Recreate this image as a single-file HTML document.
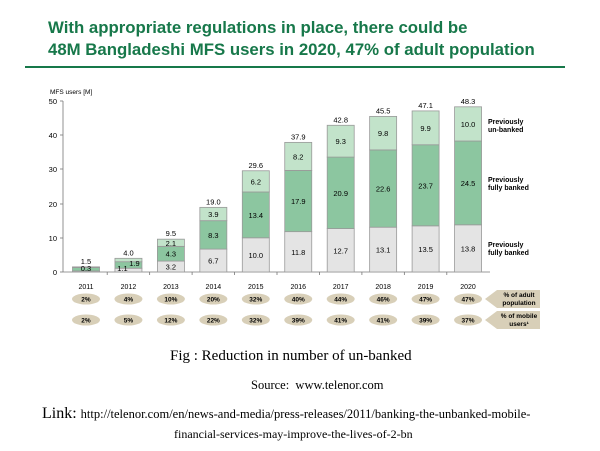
<!DOCTYPE html>
<html><head><meta charset="utf-8"><style>
body{margin:0;background:#fff;width:600px;height:451px;overflow:hidden;position:relative}
.t{position:absolute;left:48px;font:bold 16.8px "Liberation Sans",sans-serif;color:#17784a;white-space:nowrap}
.s{position:absolute;font-family:"Liberation Serif",serif;color:#000;white-space:nowrap}
</style></head><body>
<div class="t" style="top:18px">With appropriate regulations in place, there could be</div>
<div class="t" style="top:40px">48M Bangladeshi MFS users in 2020, 47% of adult population</div>
<div style="position:absolute;left:25px;top:66px;width:540px;height:2px;background:#17784a"></div>
<svg style="position:absolute;left:0;top:0" width="600" height="340" font-family="Liberation Sans,sans-serif" font-size="7.5">
<text x="50" y="94" font-size="6.5">MFS users [M]</text>
<g stroke="#777" stroke-width="0.8">
<line x1="63" y1="101" x2="63" y2="272"/><line x1="63" y1="272" x2="490" y2="272"/>
<line x1="60" y1="101" x2="63" y2="101"/><line x1="60" y1="135" x2="63" y2="135"/><line x1="60" y1="169" x2="63" y2="169"/><line x1="60" y1="204" x2="63" y2="204"/><line x1="60" y1="238" x2="63" y2="238"/><line x1="60" y1="272" x2="63" y2="272"/>
</g>
<g text-anchor="end"><text x="57" y="104">50</text><text x="57" y="138">40</text><text x="57" y="172">30</text><text x="57" y="207">20</text><text x="57" y="241">10</text><text x="57" y="275">0</text></g>
<g id="bars"></g>
<g font-size="7" font-weight="bold"><text x="488" y="124">Previously</text><text x="488" y="132">un-banked</text>
<text x="488" y="182">Previously</text><text x="488" y="190">fully banked</text>
<text x="488" y="247">Previously</text><text x="488" y="255">fully banked</text></g>
<polygon points="485,299 497,290 540,290 540,308 497,308" fill="#d8cfb8"/>
<polygon points="485,320 497,311 540,311 540,329 497,329" fill="#d8cfb8"/>
<g font-size="6.5" font-weight="bold" text-anchor="middle"><text x="519" y="297">% of adult</text><text x="519" y="305">population</text>
<text x="519" y="318">% of mobile</text><text x="519" y="326">users¹</text></g>
</svg>
<script>
var d=[[2011,.3,1,.2,"1.5",2,2],[2012,1.1,1.9,1,"4.0",4,5],[2013,3.2,4.3,2.1,"9.5",10,12],[2014,6.7,8.3,3.9,"19.0",20,22],[2015,10,13.4,6.2,"29.6",32,32],[2016,11.8,17.9,8.2,"37.9",40,39],[2017,12.7,20.9,9.3,"42.8",44,41],[2018,13.1,22.6,9.8,"45.5",46,41],[2019,13.5,23.7,9.9,"47.1",47,39],[2020,13.8,24.5,10,"48.3",47,37]];
var s="",k=3.42,Y=272;
d.forEach(function(r,i){var c=86+42.45*i,x=c-13.5,w=27;
var y1=Y-r[1]*k,y2=y1-r[2]*k,y3=y2-r[3]*k;
s+='<rect x="'+x+'" y="'+y1+'" width="'+w+'" height="'+(r[1]*k)+'" fill="#e4e4e4" stroke="#999" stroke-width="0.8"/>';
s+='<rect x="'+x+'" y="'+y2+'" width="'+w+'" height="'+(r[2]*k)+'" fill="#8cc6a0" stroke="#999" stroke-width="0.8"/>';
s+='<rect x="'+x+'" y="'+y3+'" width="'+w+'" height="'+(r[3]*k)+'" fill="#c2e3ca" stroke="#999" stroke-width="0.8"/>';
s+='<text x="'+c+'" y="'+(y3-3)+'" text-anchor="middle">'+r[4]+'</text>';
if(i==0){s+='<text x="'+c+'" y="271" text-anchor="middle">0.3</text>';}
else if(i==1){s+='<text x="'+(c-6)+'" y="271" text-anchor="middle">1.1</text><text x="'+(c+6)+'" y="266" text-anchor="middle">1.9</text>';}
else{s+='<text x="'+c+'" y="'+((Y+y1)/2+3)+'" text-anchor="middle">'+r[1].toFixed(1)+'</text>';
s+='<text x="'+c+'" y="'+((y1+y2)/2+3)+'" text-anchor="middle">'+r[2].toFixed(1)+'</text>';
s+='<text x="'+c+'" y="'+((y2+y3)/2+3)+'" text-anchor="middle">'+r[3].toFixed(1)+'</text>';}
s+='<text x="'+c+'" y="289" text-anchor="middle" font-size="7">'+r[0]+'</text>';
s+='<ellipse cx="'+c+'" cy="299" rx="14" ry="5.5" fill="#d8cfb8"/><text x="'+c+'" y="301.5" text-anchor="middle" font-size="6.5" font-weight="bold">'+r[5]+'%</text>';
s+='<ellipse cx="'+c+'" cy="320" rx="14" ry="5.5" fill="#d8cfb8"/><text x="'+c+'" y="322.5" text-anchor="middle" font-size="6.5" font-weight="bold">'+r[6]+'%</text>';
if(i<9)s+='<line x1="'+(c+21.2)+'" y1="272" x2="'+(c+21.2)+'" y2="275" stroke="#777" stroke-width="0.8"/>';
});
document.getElementById("bars").innerHTML=s;
</script>
<div class="s" style="left:170px;top:348px;font-size:15px">Fig : Reduction in number of un-banked</div>
<div class="s" style="left:251px;top:378px;font-size:12.5px">Source:&nbsp; www.telenor.com</div>
<div class="s" style="left:42px;top:405px;font-size:16px">Link: <span style="font-size:12.5px">http://telenor.com/en/news-and-media/press-releases/2011/banking-the-unbanked-mobile-</span></div>
<div class="s" style="left:174px;top:427px;font-size:12px">financial-services-may-improve-the-lives-of-2-bn</div>
</body></html>
